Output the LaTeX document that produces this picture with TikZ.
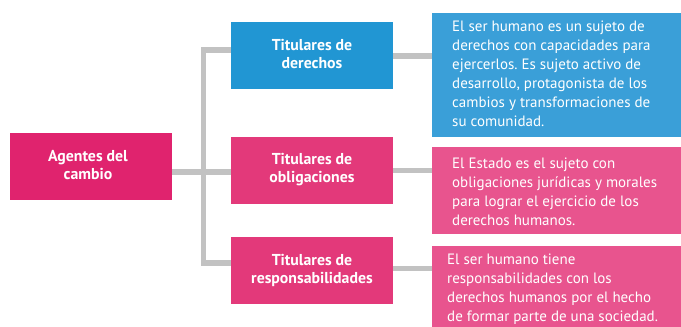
\documentclass[tikz,border=0pt]{standalone}
\usepackage{fontspec}
\setmainfont{PT Sans}
\frenchspacing
\definecolor{agpink}{HTML}{E0236E}
\definecolor{tpink}{HTML}{E3397A}
\definecolor{tblue}{HTML}{2196D3}
\definecolor{bblue}{HTML}{3A9FD8}
\definecolor{bpink}{HTML}{E8548E}
\definecolor{lgray}{HTML}{C2C2C2}
\tikzset{
  box/.style={draw=none, fill=#1, inner sep=0pt, anchor=north west},
  title/.style={text=white, font=\fontsize{15.8}{18}\selectfont\bfseries, align=center, inner sep=0pt},
  desc/.style={text=white, font=\fontsize{15}{19}\selectfont, align=left, inner sep=0pt, anchor=west},
  link/.style={draw=lgray, line width=5.5pt}
}
\begin{document}
\begin{tikzpicture}[x=1pt,y=-1pt]
\clip (0,0) rectangle (681,327);
\fill[white] (0,0) rectangle (681,327);
% boxes
\node[box=agpink, minimum width=162pt, minimum height=67pt] (ag) at (10,133) {};
\node[box=tblue, minimum width=162pt, minimum height=67pt] (t1) at (231,22) {};
\node[box=tpink, minimum width=162pt, minimum height=67pt] (t2) at (231,137) {};
\node[box=tpink, minimum width=162pt, minimum height=67pt] (t3) at (231,237) {};
\node[box=bblue, minimum width=249pt, minimum height=124pt] (d1) at (432,13) {};
\node[box=bpink, minimum width=249pt, minimum height=87pt] (d2) at (432,147) {};
\node[box=bpink, minimum width=249pt, minimum height=85pt] (d3) at (432,246) {};
% connectors
\coordinate (j0) at (203.5,172);
\coordinate (jt) at (203.5,50);
\coordinate (jb) at (203.5,263);
\draw[link] (ag.east |- j0) -- (t2.west |- j0);
\draw[link, line cap=rect] (jt) -- (jb);
\draw[link] (jt) -- (t1.west |- jt);
\draw[link] (jb) -- (t3.west |- jb);
\draw[link] (t1.east |- 0,56) -- (d1.west |- 0,56);
\draw[link] (t2.east |- 0,170.5) -- (d2.west |- 0,170.5);
\draw[link] (t3.east |- 0,268.5) -- (d3.west |- 0,268.5);
% titles
\node[title] (agt) at (88,165.5) {Agentes del\\cambio};
\node[title] (t1t) at (312,54) {Titulares de\\derechos};
\node[title] (t2t) at (312,170) {Titulares de\\obligaciones};
\node[title] (t3t) at (312,270) {Titulares de\\responsabilidades};
% descriptions
\node[desc] (d1t) at (452,74) {El ser humano es un sujeto de\\derechos con capacidades para\\ejercerlos. Es sujeto activo de\\desarrollo, protagonista de los\\cambios y transformaciones de\\su comunidad.};
\node[desc] (d2t) at (452,192) {El Estado es el sujeto con\\obligaciones jurídicas y morales\\para lograr el ejercicio de los\\derechos humanos.};
\node[desc] (d3t) at (447,289) {El ser humano tiene\\responsabilidades con los\\derechos humanos por el hecho\\de formar parte de una sociedad.};
\end{tikzpicture}
\end{document}
